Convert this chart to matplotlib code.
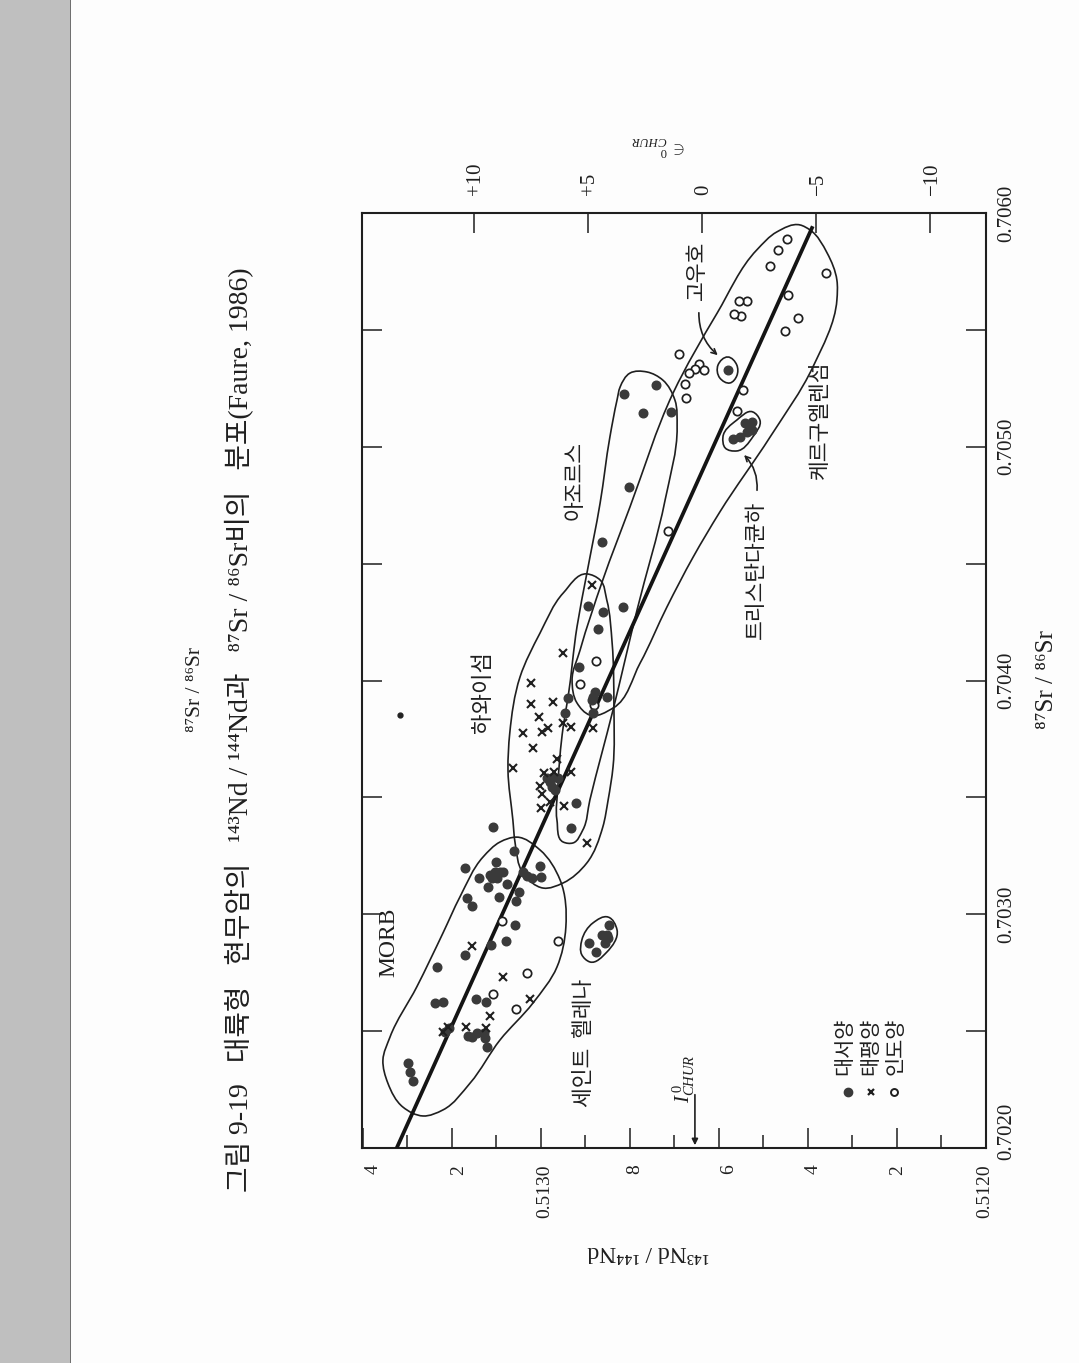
import numpy as np
import matplotlib
matplotlib.use("Agg")
import matplotlib.pyplot as plt
from matplotlib.path import Path
from matplotlib.patches import PathPatch, Rectangle, FancyArrowPatch
from matplotlib.ticker import FixedLocator
from matplotlib.transforms import ScaledTranslation

# ---- data: values are offsets in 1e-6 above the base ratios ----
ND_BASE = 0.5120
SR_BASE = 0.7020

atlantic_nd = [1108,1061,1171,1101,1115,1103,1092,1099,1110,1085,1139,1119,1076,1040,1031,1020,1002,1000,
               1049,1056,1094,1166,1155,1058,1079,1112,1171,1234,1238,1220,1146,1124,1207,1216,1164,1155,
               1144,1128,1126,1121,1299,1294,1288,847,863,852,856,849,892,876,921,933,863,894,861,816,872,
               915,852,946,939,883,885,879,883,986,973,962,975,968,980,580,742,813,771,708,802,526,530,542,
               537,553,568,526]
atlantic_sr = [1373,1271,1198,1224,1168,1181,1181,1155,1155,1181,1155,1117,1129,1181,1164,1155,1206,1159,
               1095,1057,1074,1070,1035,954,886,868,826,774,620,625,637,625,513,496,479,475,492,492,471,
               432,364,325,287,954,911,911,877,898,877,838,1476,1369,2592,2319,2293,2314,2220,2058,1929,
               1861,1925,1929,1917,1951,1861,1583,1587,1583,1544,1532,1566,3328,3264,3226,3144,3149,2828,
               3106,3084,3102,3063,3042,3033,3072]
stray_nd = [1317]
stray_sr = [1852]
pacific_nd = [1155,1085,1025,1115,1168,1124,1209,1220,1000,980,948,897,885,950,1022,1022,973,1004,984,998,
              1040,1018,950,933,883,964,1063,933,993,971,1002,998]
pacific_sr = [864,732,637,565,518,513,518,496,1455,1480,1463,1305,2408,2118,1989,1899,1908,1844,1797,1780,
              1775,1711,1818,1801,1797,1664,1626,1609,1604,1609,1549,1514]
indian_nd = [1088,962,1031,1108,1056,715,876,912,881,447,467,485,360,445,537,555,551,566,422,452,690,645,
             634,654,667,676,674,546,560]
indian_sr = [971,886,749,659,595,2640,2083,1985,1895,3889,3842,3773,3743,3649,3623,3623,3559,3568,3551,
             3495,3397,3354,3328,3333,3315,3268,3209,3243,3153]

trend_nd = [1324, 391]
trend_sr = [0, 3936]

morb_nd = [1054,1002,957,944,964,1018,1092,1159,1220,1265,1310,1344,1355,1339,1279,1220,1182,1130,1092]
morb_sr = [1330,1275,1147,945,774,620,462,278,163,137,175,278,376,475,689,920,1074,1245,1309]
hawaii_nd = [897,950,1002,1047,1070,1074,1063,1058,1040,995,950,897,861,849,838,836,840,852,867]
hawaii_sr = [2456,2374,2203,2015,1775,1617,1403,1305,1176,1112,1134,1219,1373,1489,1630,1887,2160,2344,2430]
azores_nd = [829,845,867,897,919,939,950,962,964,950,928,906,890,838,784,721,694,699,726,762,800,822]
azores_sr = [3200,3042,2759,2456,2229,1929,1801,1544,1403,1309,1305,1360,1489,1874,2302,2772,3084,3200,
             3285,3320,3315,3256]
kerguelen_nd = [418,470,515,604,703,800,861,912,930,919,890,838,777,717,658,598,485,389,335,335,357,395]
kerguelen_sr = [3949,3919,3842,3572,3230,2742,2430,2130,2002,1904,1852,1882,2075,2314,2528,2721,3042,3341,
                3628,3713,3829,3927]
helena_nd = [849,829,852,890,908,908,883]
helena_sr = [988,933,838,796,826,890,963]
gough_nd = [580,560,560,575,598,602]
gough_sr = [3384,3350,3303,3273,3294,3350]
tristan_nd = [524,508,524,560,586,591,560]
tristan_sr = [3149,3114,3042,2982,2995,3042,3114]

nd_ticks = [0.5120,0.5121,0.5122,0.5123,0.5124,0.5125,0.5126,0.5127,0.5128,0.5129,0.5130,0.5131,0.5132,0.5133,0.5134]
nd_major_labels = {0.5120:"0.5120",0.5122:"2",0.5124:"4",0.5126:"6",0.5128:"8",0.5130:"0.5130",0.5132:"2",0.5134:"4"}
sr_ticks = [0.7020,0.7025,0.7030,0.7035,0.7040,0.7045,0.7050,0.7055,0.7060]
sr_labels = {0.7020:"0.7020",0.7030:"0.7030",0.7040:"0.7040",0.7050:"0.7050",0.7060:"0.7060"}
eps_ticks = [10,5,0,-5,-10]
eps_labels = ["+10","+5","0","\u22125","\u221210"]
CHUR_ND = 0.512638
ichur_nd, ichur_sr = [654, 654], [240, 0]

# ---- layout ----
W, H = 1079, 1363
INK = "#1f1f1f"
FAM = ["Liberation Serif", "Noto Sans CJK KR", "DejaVu Sans"]
KFAM = ["Noto Sans CJK KR", "Liberation Serif", "DejaVu Sans"]
plt.rcParams["font.family"] = FAM
plt.rcParams["mathtext.fontset"] = "custom"
plt.rcParams["mathtext.rm"] = "Liberation Serif"
plt.rcParams["mathtext.it"] = "Liberation Serif:italic"
plt.rcParams["mathtext.bf"] = "Liberation Serif:bold"

fig = plt.figure(figsize=(W/100, H/100), dpi=100, facecolor="#fdfdfd")
fig.patches.append(Rectangle((0,0), 70/W, 1, transform=fig.transFigure, facecolor="#bfbfbf",
                             edgecolor="none"))
fig.patches.append(Rectangle((70/W,0), 1.5/W, 1, transform=fig.transFigure, facecolor="#707070",
                             edgecolor="none"))

L, R, T, B = 362, 986, 213, 1148
ax = fig.add_axes([L/W, 1-B/H, (R-L)/W, (B-T)/H])
ax.set_facecolor("none")
ax.set_xlim(0.513402, 0.5120)
ax.set_ylim(0.7020, 0.7060)
for s in ax.spines.values():
    s.set_linewidth(1.5); s.set_color(INK)

def nd(v): return ND_BASE + np.asarray(v, dtype=float)*1e-6
def sr(v): return SR_BASE + np.asarray(v, dtype=float)*1e-6

def closed_smooth(xs, ys):
    """Closed Bezier outline; handles scale with chord length on the axes' own aspect."""
    sx = (R-L)/abs(ax.get_xlim()[1]-ax.get_xlim()[0])
    sy = (B-T)/abs(ax.get_ylim()[1]-ax.get_ylim()[0])
    s = np.array([sx, sy])
    p = np.column_stack([xs, ys])*s
    n = len(p)
    tang = []
    for i in range(n):
        a = p[i]-p[(i-1)%n]; b = p[(i+1)%n]-p[i]
        la, lb = np.hypot(*a), np.hypot(*b)
        t = a/la*lb + b/lb*la          # weighted by the opposite chord
        tang.append(t/np.hypot(*t))
    verts = [p[0]]; codes = [Path.MOVETO]
    for i in range(n):
        j = (i+1)%n
        d = np.hypot(*(p[j]-p[i]))/3
        verts += [p[i]+tang[i]*d, p[j]-tang[j]*d, p[j]]
        codes += [Path.CURVE4]*3
    return Path(np.array(verts)/s, codes)

for xs, ys in [(morb_nd,morb_sr),(hawaii_nd,hawaii_sr),(azores_nd,azores_sr),(kerguelen_nd,kerguelen_sr),
               (helena_nd,helena_sr),(gough_nd,gough_sr),(tristan_nd,tristan_sr)]:
    ax.add_patch(PathPatch(closed_smooth(nd(xs), sr(ys)), fc="none", ec=INK, lw=1.2, zorder=2))

ax.plot(nd(trend_nd), sr(trend_sr), color="#141414", lw=2.7, zorder=3, clip_on=True)
ax.plot(nd(indian_nd), sr(indian_sr), "o", ms=6, mfc="white", mec=INK, mew=1.25, zorder=4, ls="none")
ax.plot(nd(atlantic_nd), sr(atlantic_sr), "o", ms=6.2, mfc="#3a3a3a", mec="#3a3a3a", zorder=5, ls="none")
ax.plot(nd(stray_nd), sr(stray_sr), "o", ms=3.5, mfc="#222222", mec="#222222", zorder=5, ls="none")
ax.plot(nd(pacific_nd), sr(pacific_sr), "x", ms=6, mec=INK, mew=1.5, zorder=6, ls="none")

# legend
ax.plot(nd([310]), sr([240]), "o", ms=6, mfc="#3a3a3a", mec="#3a3a3a", ls="none")
ax.plot(nd([258]), sr([240]), "x", ms=5, mec=INK, mew=1.6, ls="none")
ax.plot(nd([207]), sr([240]), "o", ms=5, mfc="white", mec=INK, mew=1.4, ls="none")

# ticks
major = [t for t in nd_ticks if t in nd_major_labels]
minor = [t for t in nd_ticks if t not in nd_major_labels]
ax.xaxis.set_major_locator(FixedLocator(major))
ax.xaxis.set_minor_locator(FixedLocator(minor))
ax.set_xticklabels([nd_major_labels[t] for t in major], rotation=90, fontsize=14, color=INK, va="top", ha="center")
ax.tick_params(axis="x", which="major", direction="in", length=14.4, width=1.1, pad=12, color=INK)
ax.tick_params(axis="x", which="minor", direction="in", length=9.4, width=1.1, color=INK)
offs = {0.5120:-1,0.5122:1,0.5124:5,0.5126:10,0.5128:5,0.5130:4,0.5132:7,0.5134:10}
for t, lab in zip(major, ax.get_xticklabels()):
    lab.set_transform(lab.get_transform()+ScaledTranslation(offs[t]/100, 0, fig.dpi_scale_trans))

ax.yaxis.set_major_locator(FixedLocator(sr_ticks))
ax.yaxis.tick_right()
ax.set_yticklabels([sr_labels.get(t,"") for t in sr_ticks], rotation=90, fontsize=15, color=INK, va="center", ha="left")
ax.tick_params(axis="y", which="major", direction="in", length=14.4, width=1.1, pad=8, color=INK, left=True, right=True)
for t, lab in zip(sr_ticks, ax.get_yticklabels()):
    if t == 0.7020:
        lab.set_transform(lab.get_transform()+ScaledTranslation(0, 17/100, fig.dpi_scale_trans))

sec = ax.secondary_xaxis("top", functions=(lambda n: (np.asarray(n)/CHUR_ND-1)*1e4,
                                           lambda e: (np.asarray(e)*1e-4+1)*CHUR_ND))
sec.set_xticks(eps_ticks)
sec.set_xticklabels(eps_labels, rotation=90, fontsize=15, color=INK, va="bottom", ha="center")
sec.tick_params(axis="x", direction="in", length=14.4, width=1.1, pad=13, color=INK)
sec.spines["top"].set_visible(False)
for lab in sec.get_xticklabels():
    lab.set_transform(lab.get_transform()+ScaledTranslation(2/100, 0, fig.dpi_scale_trans))

def T_(x, y, s, size, rot=90, fam=KFAM, **kw):
    fig.text(x/W, 1-y/H, s, fontsize=size, rotation=rot, family=fam, color=INK,
             ha="center", va="center", **kw)

# arrows
ax.add_patch(FancyArrowPatch((nd(ichur_nd[0]), sr(ichur_sr[0])), (nd(ichur_nd[1]), sr(ichur_sr[1])),
                             arrowstyle="-|>", mutation_scale=9, color=INK, lw=1.2, clip_on=False, zorder=7))
ax.add_patch(FancyArrowPatch((nd(645), sr(3585)), (nd(598), sr(3384)), arrowstyle="->", mutation_scale=9,
                             connectionstyle="arc3,rad=0.25", color=INK, lw=1.2, zorder=7))
ax.add_patch(FancyArrowPatch((nd(515), sr(2802)), (nd(548), sr(2973)), arrowstyle="->", mutation_scale=9,
                             connectionstyle="arc3,rad=0.25", color=INK, lw=1.2, zorder=7))

# annotations
T_(389, 942, "MORB", 17, fam=FAM)
T_(584, 1043, "세인트  헬레나", 15.5, weight="medium")
T_(483, 692, "하와이섬", 16, weight="medium")
T_(575, 480, "아조르스", 15.5, weight="medium")
T_(697, 270, "고우호", 15.5, weight="medium")
T_(820, 420, "케르구엘렌섬", 15.5, weight="medium")
T_(756, 570, "트리스탄다큔하", 15.5, weight="medium")
T_(844, 1046, "대서양", 15, weight="medium")
T_(870, 1046, "태평양", 15, weight="medium")
T_(896, 1046, "인도양", 15, weight="medium")
T_(684, 1079, r"$\mathit{I}^{\,0}_{\mathit{CHUR}}$", 15, fam=FAM)
T_(660, 146, r"$\in\;^{0}_{\mathit{CHUR}}$", 13, rot=180, fam=FAM)

T_(1047, 680, "⁸⁷Sr / ⁸⁶Sr", 18, fam=FAM)
T_(648, 1252, "¹⁴³Nd / ¹⁴⁴Nd", 17, rot=180, fam=FAM)
T_(196, 690, "⁸⁷Sr / ⁸⁶Sr", 15.5, fam=FAM)
T_(240, 730, "그림 9-19   대륙형   현무암의   ¹⁴³Nd / ¹⁴⁴Nd과   ⁸⁷Sr / ⁸⁶Sr비의   분포(Faure, 1986)", 20, fam=FAM)

fig.savefig("out.png", dpi=100, facecolor=fig.get_facecolor())
